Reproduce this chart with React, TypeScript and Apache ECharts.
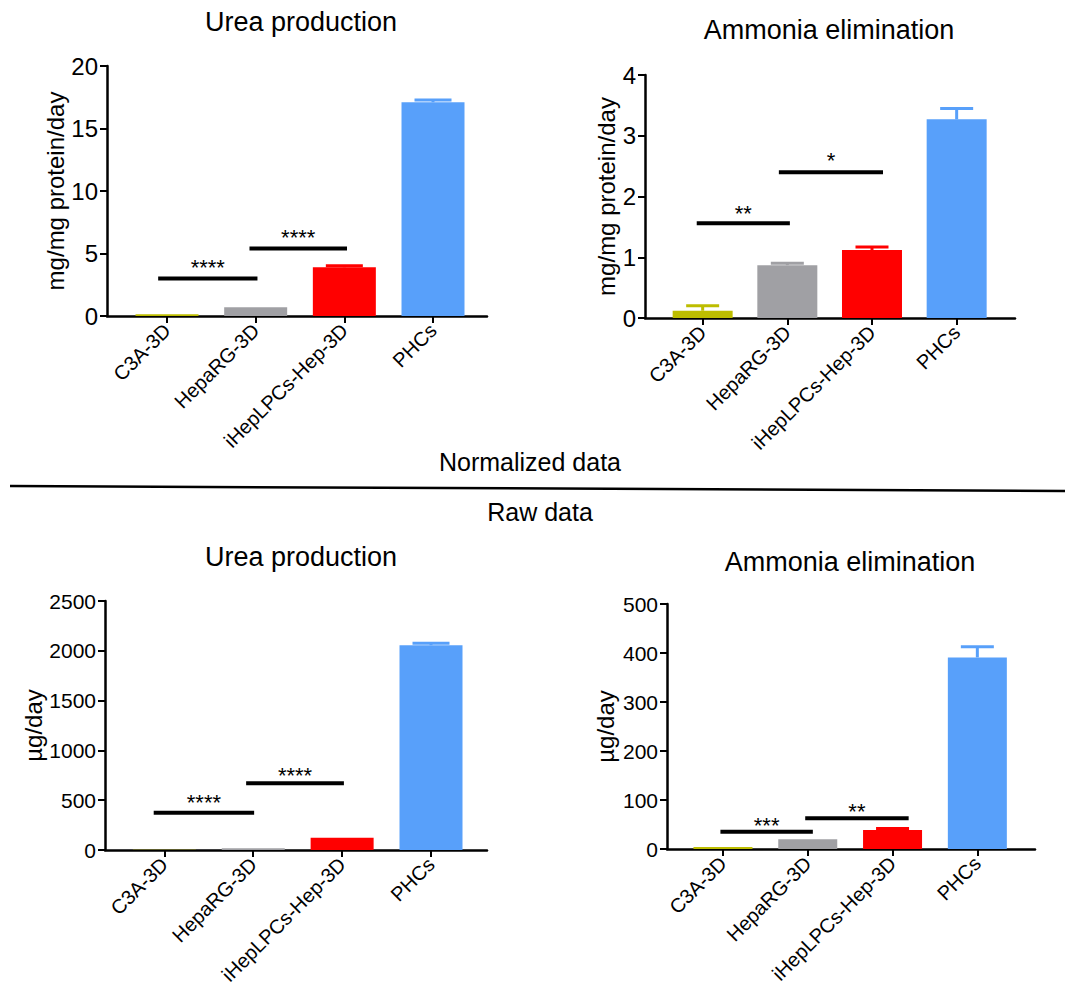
import React, { useEffect, useRef } from "react";
import * as echarts from "echarts";

const FONT = "'Liberation Sans', Arial, Helvetica, sans-serif";

const categories = ["C3A-3D", "HepaRG-3D", "iHepLPCs-Hep-3D", "PHCs"];
const barColors = ["#bdbd00", "#a0a0a4", "#ff0000", "#58a0fa"];

// Normalized data
const ureaNormMean = [0.15, 0.7, 3.9, 17.1];
const ureaNormSd = [0.0, 0.0, 0.12, 0.18];
const ureaNormTicks = [0, 5, 10, 15, 20];
// [x1, x2, lineY, starsY]
const ureaNormSig = [
  [-0.1, 1.02, 3.0, 4.3],
  [0.93, 2.03, 5.4, 6.7],
];
const ureaNormStars = ["****", "****"];

const ammoniaNormMean = [0.12, 0.87, 1.12, 3.27];
const ammoniaNormSd = [0.08, 0.03, 0.05, 0.18];
const ammoniaNormTicks = [0, 1, 2, 3, 4];
const ammoniaNormSig = [
  [-0.07, 1.03, 1.56, 1.8],
  [0.9, 2.13, 2.4, 2.68],
];
const ammoniaNormStars = ["**", "*"];

// Raw data
const ureaRawMean = [2, 17, 123, 2056];
const ureaRawSd = [0, 0, 0, 20];
const ureaRawTicks = [0, 500, 1000, 1500, 2000, 2500];
const ureaRawSig = [
  [-0.12, 1.01, 375, 528],
  [0.92, 2.02, 669, 795],
];
const ureaRawStars = ["****", "****"];

const ammoniaRawMean = [4, 20, 39, 391];
const ammoniaRawSd = [0, 0, 3, 22];
const ammoniaRawTicks = [0, 100, 200, 300, 400, 500];
const ammoniaRawSig = [
  [-0.03, 1.06, 35.4, 59],
  [0.97, 2.19, 63, 86],
];
const ammoniaRawStars = ["***", "**"];

const panels = [
  {
    mean: ureaNormMean, sd: ureaNormSd, ticks: ureaNormTicks, sig: ureaNormSig, stars: ureaNormStars,
    yName: "mg/mg protein/day", tickFont: 24,
    left: 107, top: 66, width: 380, height: 250, xMin: -0.677, xMax: 3.609, barWidth: 63, cap: 37, nameGap: 33,
  },
  {
    mean: ammoniaNormMean, sd: ammoniaNormSd, ticks: ammoniaNormTicks, sig: ammoniaNormSig, stars: ammoniaNormStars,
    yName: "mg/mg protein/day", tickFont: 24,
    left: 645, top: 75, width: 370, height: 243, xMin: -0.681, xMax: 3.689, barWidth: 60, cap: 33, nameGap: 23,
  },
  {
    mean: ureaRawMean, sd: ureaRawSd, ticks: ureaRawTicks, sig: ureaRawSig, stars: ureaRawStars,
    yName: "µg/day", tickFont: 21,
    left: 105, top: 601, width: 382, height: 249, xMin: -0.668, xMax: 3.63, barWidth: 63, cap: 37, nameGap: 58,
  },
  {
    mean: ammoniaRawMean, sd: ammoniaRawSd, ticks: ammoniaRawTicks, sig: ammoniaRawSig, stars: ammoniaRawStars,
    yName: "µg/day", tickFont: 21,
    left: 667, top: 604, width: 368, height: 245, xMin: -0.66, xMax: 3.68, barWidth: 59, cap: 33, nameGap: 50,
  },
];

const titles = [
  { text: "Urea production", x: 301, y: 22, size: 27 },
  { text: "Ammonia elimination", x: 829, y: 30, size: 27 },
  { text: "Urea production", x: 301, y: 557, size: 27 },
  { text: "Ammonia elimination", x: 850, y: 562, size: 27 },
  { text: "Normalized data", x: 530, y: 462, size: 25 },
  { text: "Raw data", x: 540, y: 512, size: 25 },
];

function buildOption() {
  const grid: any[] = [];
  const xAxis: any[] = [];
  const yAxis: any[] = [];
  const series: any[] = [];
  panels.forEach((p, i) => {
    grid.push({ left: p.left, top: p.top, width: p.width, height: p.height, containLabel: false });
    xAxis.push({
      gridIndex: i,
      type: "value",
      min: p.xMin,
      max: p.xMax,
      axisLine: { show: true, onZero: false, lineStyle: { color: "#000", width: 2.5 } },
      axisTick: { show: true, customValues: [0, 1, 2, 3], length: 7, lineStyle: { color: "#000", width: 2 } },
      axisLabel: {
        customValues: [0, 1, 2, 3],
        formatter: (v: number) => categories[Math.round(v)] ?? "",
        rotate: 45,
        fontSize: 20,
        color: "#000",
        margin: 11,
        fontFamily: FONT,
      },
      splitLine: { show: false },
    });
    const t = p.ticks;
    yAxis.push({
      gridIndex: i,
      type: "value",
      min: t[0],
      max: t[t.length - 1],
      interval: t[1] - t[0],
      axisLine: { show: true, onZero: false, lineStyle: { color: "#000", width: 2.5 } },
      axisTick: { show: true, length: 7, lineStyle: { color: "#000", width: 2 } },
      axisLabel: {
        fontSize: p.tickFont,
        color: "#000",
        margin: 9,
        fontFamily: FONT,
        formatter: (v: number) => String(v),
      },
      splitLine: { show: false },
      name: p.yName,
      nameLocation: "middle",
      nameGap: p.nameGap,
      nameTextStyle: { fontSize: 24, color: "#000", fontFamily: FONT },
    });
    series.push({
      type: "bar",
      xAxisIndex: i,
      yAxisIndex: i,
      barWidth: p.barWidth,
      data: p.mean.map((v, k) => ({ value: [k, v], itemStyle: { color: barColors[k] } })),
      z: 2,
    });
    series.push({
      type: "custom",
      xAxisIndex: i,
      yAxisIndex: i,
      encode: { x: 0, y: 1 },
      z: 3,
      data: p.mean.map((v, k) => [k, v, p.sd[k]]),
      renderItem: (params: any, api: any) => {
        const x = api.value(0);
        const m = api.value(1);
        const e = api.value(2);
        if (!(e > 0)) return { type: "group", children: [] };
        const base = api.coord([x, m]);
        const top = api.coord([x, m + e]);
        const color = barColors[params.dataIndex];
        const half = p.cap / 2;
        return {
          type: "group",
          children: [
            { type: "line", shape: { x1: base[0], y1: base[1], x2: top[0], y2: top[1] }, style: { stroke: color, lineWidth: 3 } },
            { type: "line", shape: { x1: top[0] - half, y1: top[1], x2: top[0] + half, y2: top[1] }, style: { stroke: color, lineWidth: 3 } },
          ],
        };
      },
    });
    series.push({
      type: "custom",
      xAxisIndex: i,
      yAxisIndex: i,
      encode: { x: 0, y: 1 },
      z: 4,
      data: p.sig.map((s) => [s[0], s[2], s[1], s[3]]),
      renderItem: (params: any, api: any) => {
        const x1 = api.value(0);
        const y = api.value(1);
        const x2 = api.value(2);
        const ly = api.value(3);
        const a = api.coord([x1, y]);
        const b = api.coord([x2, y]);
        const l = api.coord([(x1 + x2) / 2, ly]);
        return {
          type: "group",
          children: [
            { type: "line", shape: { x1: a[0], y1: a[1], x2: b[0], y2: b[1] }, style: { stroke: "#000", lineWidth: 4 } },
            {
              type: "text",
              x: l[0],
              y: l[1] + 5,
              style: {
                text: p.stars[params.dataIndex],
                fontSize: 22,
                fontFamily: FONT,
                fill: "#000",
                align: "center",
                verticalAlign: "middle",
              },
            },
          ],
        };
      },
    });
  });

  const graphic: any[] = titles.map((t) => ({
    type: "text",
    x: t.x,
    y: t.y,
    style: {
      text: t.text,
      fontSize: t.size,
      fontFamily: FONT,
      fill: "#000",
      align: "center",
      verticalAlign: "middle",
    },
  }));
  graphic.push({
    type: "line",
    shape: { x1: 10, y1: 486, x2: 1065, y2: 491 },
    style: { stroke: "#000", lineWidth: 2.5 },
  });

  return {
    animation: false,
    backgroundColor: "#fff",
    textStyle: { fontFamily: FONT },
    grid,
    xAxis,
    yAxis,
    series,
    graphic,
  };
}

export default function App() {
  const ref = useRef<HTMLDivElement>(null);
  useEffect(() => {
    if (!ref.current) return;
    const chart = echarts.init(ref.current, undefined, { renderer: "svg" });
    chart.setOption(buildOption() as any);
    return () => chart.dispose();
  }, []);
  return (
    <div
      ref={ref}
      style={{ position: "absolute", left: 0, top: 0, width: 1065, height: 998, background: "#fff" }}
    />
  );
}
